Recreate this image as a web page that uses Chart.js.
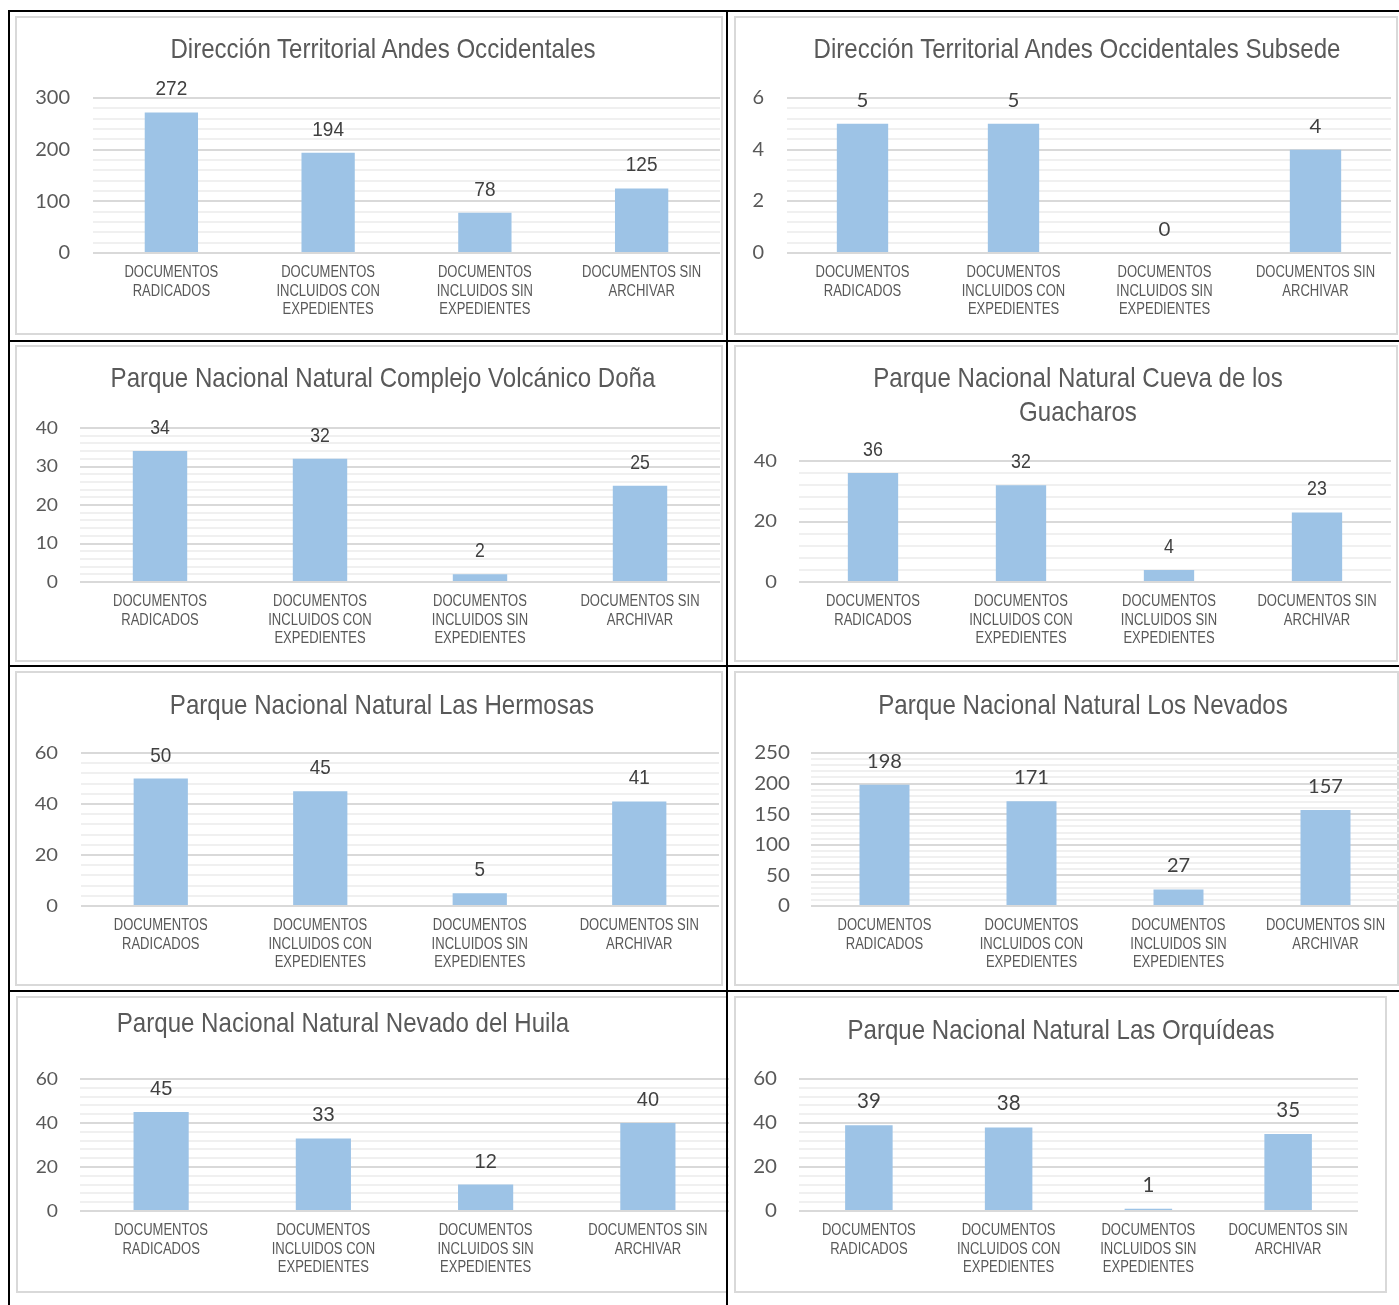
<!DOCTYPE html>
<html lang="es">

<head>
    <meta charset="UTF-8">
    <title>Documentos por área protegida</title>
    <style>
        body {
            margin: 0;
            background: #fff;
            width: 1399px;
            height: 1305px;
            position: relative;
            overflow: hidden;
        }

        .linea {
            position: absolute;
            background: #000;
            z-index: 3;
        }

        .caja {
            position: absolute;
            border: 2px solid #d9d9d9;
            box-sizing: border-box;
        }

        .grafico {
            position: absolute;
        }

        .titulo {
            position: absolute;
            transform: translateX(-50%) scaleX(0.86);
            white-space: nowrap;
            text-align: center;
            font-family: 'Liberation Sans', Arial, sans-serif;
            font-size: 28px;
            line-height: 34px;
            color: #595959;
        }
    </style>
</head>

<body>

    <script src="https://cdn.jsdelivr.net/npm/chart.js"></script>

    <script>
        // datos de cada dependencia
        const categorias = [
            ['DOCUMENTOS', 'RADICADOS'],
            ['DOCUMENTOS', 'INCLUIDOS CON', 'EXPEDIENTES'],
            ['DOCUMENTOS', 'INCLUIDOS SIN', 'EXPEDIENTES'],
            ['DOCUMENTOS SIN', 'ARCHIVAR']
        ];
        const titulos = [
            ['Dirección Territorial Andes Occidentales'],
            ['Dirección Territorial Andes Occidentales Subsede'],
            ['Parque Nacional Natural Complejo Volcánico Doña'],
            ['Parque Nacional Natural Cueva de los', 'Guacharos'],
            ['Parque Nacional Natural Las Hermosas'],
            ['Parque Nacional Natural Los Nevados'],
            ['Parque Nacional Natural Nevado del Huila'],
            ['Parque Nacional Natural Las Orquídeas']
        ];
        const andesOccidentales = [272, 194, 78, 125];
        const andesSubsede = [5, 5, 0, 4];
        const complejoVolcanico = [34, 32, 2, 25];
        const cuevaGuacharos = [36, 32, 4, 23];
        const lasHermosas = [50, 45, 5, 41];
        const losNevados = [198, 171, 27, 157];
        const nevadoHuila = [45, 33, 12, 40];
        const lasOrquideas = [39, 38, 1, 35];
        const series = [andesOccidentales, andesSubsede, complejoVolcanico, cuevaGuacharos,
            lasHermosas, losNevados, nevadoHuila, lasOrquideas];
        const ejeMax = [300, 6, 40, 40, 60, 250, 60, 60];
        const ejePaso = [100, 2, 10, 20, 20, 50, 20, 20];

        // posiciones y estilos: caja, area de trazado, borde derecho de las marcas, titulo,
        // fuentes [familia, tamaño, escala horizontal]
        const ARIAL = "'Liberation Sans', Arial, sans-serif";
        const CALIBRI = "Lato, 'Open Sans', sans-serif";
        const fCategoria = [ARIAL, 16.3, 0.8];
        const diseno = [
            { caja: [15, 16, 708, 319], area: [93, 98, 720, 253], marcas: 70, titulo: [383, 49], fEje: [CALIBRI, 20, 1.0], fVal: [ARIAL, 20, 0.95] },
            { caja: [734, 16, 664, 319], area: [787, 98, 1391, 253], marcas: 764, titulo: [1077, 49], fEje: [CALIBRI, 19, 1.05], fVal: [CALIBRI, 19.5, 1.05] },
            { caja: [15, 345, 708, 317], area: [80, 428, 720, 582], marcas: 58, titulo: [383, 378], fEje: [CALIBRI, 17.5, 1.1], fVal: [ARIAL, 21, 0.84] },
            { caja: [734, 345, 664, 317], area: [799, 461, 1391, 582], marcas: 777, titulo: [1078, 378], fEje: [CALIBRI, 17.5, 1.15], fVal: [ARIAL, 20, 0.89] },
            { caja: [15, 671, 708, 315], area: [81, 753, 719, 906], marcas: 58, titulo: [382, 705], fEje: [CALIBRI, 17.5, 1.15], fVal: [ARIAL, 21, 0.9] },
            { caja: [734, 671, 665, 315], area: [811, 753, 1399, 906], marcas: 790, titulo: [1083, 705], fEje: [CALIBRI, 20, 1.03], fVal: [CALIBRI, 20, 1.0] },
            { caja: [16, 996, 712, 297], area: [80, 1079, 729, 1211], marcas: 58, titulo: [343, 1023], fEje: [CALIBRI, 17.5, 1.1], fVal: [ARIAL, 21, 0.95] },
            { caja: [734, 996, 653, 297], area: [799, 1079, 1358, 1211], marcas: 777, titulo: [1061, 1030], fEje: [CALIBRI, 19, 1.08], fVal: [CALIBRI, 20.5, 1.0] }
        ];

        // lineas de la tabla
        [[8, 10, 1391, 2], [8, 10, 2, 1295], [726, 10, 2, 1295],
         [8, 340, 1391, 2], [8, 665, 1391, 2], [8, 990, 1391, 2]].forEach(r => {
            const d = document.createElement('div');
            d.className = 'linea';
            d.style.cssText = `left:${r[0]}px;top:${r[1]}px;width:${r[2]}px;height:${r[3]}px`;
            document.body.appendChild(d);
        });

        function texto(ctx, s, x, y, f, align, base, color) {
            ctx.save();
            ctx.translate(x, y);
            ctx.scale(f[2], 1);
            ctx.font = f[1] + 'px ' + f[0];
            ctx.textAlign = align;
            ctx.textBaseline = base;
            ctx.fillStyle = color;
            ctx.fillText(s, 0, 0);
            ctx.restore();
        }

        // textos de ejes y etiquetas de valor (con escala horizontal)
        const textos = {
            id: 'textos',
            afterDraw(chart, args, o) {
                const ctx = chart.ctx;
                const area = chart.chartArea;
                const sx = chart.scales.x, sy = chart.scales.y;
                for (let v = 0; v <= o.max; v += o.paso) {
                    texto(ctx, String(v), o.marcas, sy.getPixelForValue(v), o.fEje, 'right', 'middle', '#595959');
                }
                chart.data.labels.forEach((lineas, i) => {
                    const x = sx.getPixelForTick(i);
                    lineas.forEach((l, k) => {
                        texto(ctx, l, x, area.bottom + 20 + k * 18.5, fCategoria, 'center', 'middle', '#595959');
                    });
                });
                const meta = chart.getDatasetMeta(0);
                meta.data.forEach((barra, i) => {
                    texto(ctx, String(chart.data.datasets[0].data[i]), barra.x, barra.y - 17, o.fVal, 'center', 'alphabetic', '#404040');
                });
            }
        };

        series.forEach((valores, n) => {
            const d = diseno[n];
            const [cl, ct, cw, ch] = d.caja;
            const [al, at, ar, ab] = d.area;

            const caja = document.createElement('div');
            caja.className = 'caja';
            caja.style.cssText = `left:${cl}px;top:${ct}px;width:${cw}px;height:${ch}px`;
            document.body.appendChild(caja);

            const lienzoDer = Math.max(cl + cw, ar + 1);
            const cont = document.createElement('div');
            cont.className = 'grafico';
            cont.style.cssText = `left:${cl}px;top:${ct}px;width:${lienzoDer - cl}px;height:${ch}px`;
            const canvas = document.createElement('canvas');
            cont.appendChild(canvas);
            document.body.appendChild(cont);

            const tit = document.createElement('div');
            tit.className = 'titulo';
            tit.innerHTML = titulos[n].join('<br>');
            tit.style.left = d.titulo[0] + 'px';
            tit.style.top = (d.titulo[1] - 17) + 'px';
            document.body.appendChild(tit);

            const menor = ejePaso[n] / 5;
            const esMayor = v => Math.abs(v / ejePaso[n] - Math.round(v / ejePaso[n])) < 1e-6;

            new Chart(canvas, {
                type: 'bar',
                data: {
                    labels: categorias,
                    datasets: [{
                        data: valores,
                        backgroundColor: '#9dc3e6',
                        borderWidth: 0,
                        barPercentage: 0.34,
                        categoryPercentage: 1
                    }]
                },
                plugins: [textos],
                options: {
                    responsive: true,
                    maintainAspectRatio: false,
                    animation: false,
                    layout: {
                        padding: { left: 0, top: at - ct, right: lienzoDer - ar, bottom: 0 }
                    },
                    plugins: {
                        legend: { display: false },
                        title: { display: false },
                        tooltip: { enabled: false },
                        textos: { max: ejeMax[n], paso: ejePaso[n], marcas: d.marcas - cl, fEje: d.fEje, fVal: d.fVal }
                    },
                    scales: {
                        x: {
                            grid: { display: false, drawTicks: false },
                            border: { display: false },
                            ticks: { display: false },
                            afterFit: eje => { eje.height = ct + ch - ab; }
                        },
                        y: {
                            min: 0,
                            max: ejeMax[n],
                            border: { display: false },
                            grid: {
                                drawTicks: false,
                                color: c => esMayor(c.tick.value) ? '#d9d9d9' : '#f0f0f0',
                                lineWidth: 2
                            },
                            afterBuildTicks: eje => {
                                const t = [];
                                for (let i = 0; i * menor <= ejeMax[n] + 1e-9; i++) {
                                    t.push({ value: Math.round(i * menor * 1000) / 1000 });
                                }
                                eje.ticks = t;
                            },
                            ticks: { display: false, autoSkip: false },
                            afterFit: eje => { eje.width = al - cl; }
                        }
                    }
                }
            });
        });
    </script>

</body>

</html>
